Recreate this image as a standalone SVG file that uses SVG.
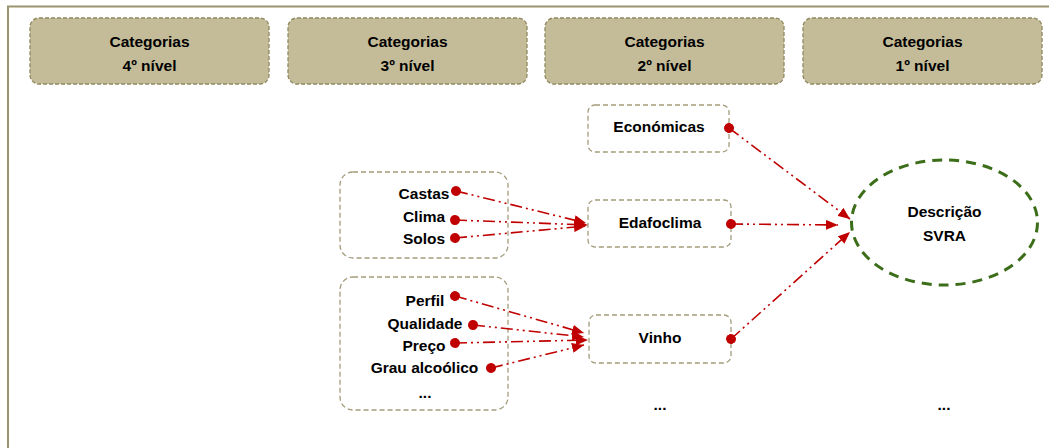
<svg xmlns="http://www.w3.org/2000/svg" width="1049" height="448" viewBox="0 0 1049 448">
  <style>
    .hdr { fill: #c4bc98; stroke: #8f885f; stroke-width: 1.3; stroke-dasharray: 4 2; }
    .box { fill: #ffffff; stroke: #a39c7a; stroke-width: 1.3; stroke-dasharray: 5 3; }
    .txt { font-family: "Liberation Sans", Arial, sans-serif; font-weight: bold; font-size: 15.5px; fill: #000000; text-anchor: middle; }
    .lnk { fill: none; stroke: #c00000; stroke-width: 1.6; stroke-dasharray: 12 4 2 4 2 4; marker-start: url(#dot); marker-end: url(#arrow); }
  </style>
  <defs>
    <marker id="dot" viewBox="0 0 10 10" refX="5" refY="5" markerWidth="10" markerHeight="10" markerUnits="userSpaceOnUse" orient="auto">
      <circle cx="5" cy="5" r="5" fill="#c00000"/>
    </marker>
    <marker id="arrow" viewBox="0 0 10 10" refX="10" refY="5" markerWidth="12" markerHeight="10" markerUnits="userSpaceOnUse" orient="auto" preserveAspectRatio="none">
      <path d="M0,0 L10,5 L0,10 Z" fill="#c00000"/>
    </marker>
  </defs>

  <!-- outer frame (top and left edges) -->
  <path d="M8,448 V6.5 H1049" fill="none" stroke="#9b9470" stroke-width="2"/>

  <!-- level headers -->
  <g id="hdr4">
    <rect class="hdr" x="30" y="18" width="239" height="66" rx="9"/>
    <text class="txt" x="149.5" y="47">Categorias</text>
    <text class="txt" x="149.5" y="71">4º nível</text>
  </g>
  <g id="hdr3">
    <rect class="hdr" x="288" y="18" width="239" height="66" rx="9"/>
    <text class="txt" x="407.5" y="47">Categorias</text>
    <text class="txt" x="407.5" y="71">3º nível</text>
  </g>
  <g id="hdr2">
    <rect class="hdr" x="545" y="18" width="239" height="66" rx="9"/>
    <text class="txt" x="664.5" y="47">Categorias</text>
    <text class="txt" x="664.5" y="71">2º nível</text>
  </g>
  <g id="hdr1">
    <rect class="hdr" x="803" y="18" width="239" height="66" rx="9"/>
    <text class="txt" x="922.5" y="47">Categorias</text>
    <text class="txt" x="922.5" y="71">1º nível</text>
  </g>

  <!-- 3rd level groups -->
  <g id="grp-edafoclima">
    <rect class="box" x="340" y="172" width="168" height="86" rx="13"/>
    <text class="txt" x="424" y="199">Castas</text>
    <text class="txt" x="424" y="222">Clima</text>
    <text class="txt" x="424" y="244">Solos</text>
  </g>
  <g id="grp-vinho">
    <rect class="box" x="340" y="277" width="168" height="133" rx="13"/>
    <text class="txt" x="425" y="306">Perfil</text>
    <text class="txt" x="425" y="329">Qualidade</text>
    <text class="txt" x="424" y="351">Preço</text>
    <text class="txt" x="424.5" y="373">Grau alcoólico</text>
    <text class="txt" x="425" y="398">...</text>
  </g>

  <!-- 2nd level nodes -->
  <g id="economicas">
    <rect class="box" x="588" y="105" width="141" height="47" rx="7"/>
    <text class="txt" x="659" y="132">Económicas</text>
  </g>
  <g id="edafoclima">
    <rect class="box" x="588" y="200" width="143" height="47" rx="7"/>
    <text class="txt" x="660" y="228">Edafoclima</text>
  </g>
  <g id="vinho">
    <rect class="box" x="589" y="315" width="142" height="48" rx="7"/>
    <text class="txt" x="660" y="343">Vinho</text>
  </g>
  <g id="more2">
    <text class="txt" x="660" y="410">...</text>
  </g>

  <!-- 1st level -->
  <g id="descricao">
    <ellipse cx="944.5" cy="222.5" rx="93" ry="62.5" fill="#ffffff" stroke="#3c6e1a" stroke-width="3" stroke-dasharray="10 7"/>
    <text class="txt" x="944.5" y="217">Descrição</text>
    <text class="txt" x="944.5" y="241">SVRA</text>
  </g>
  <g id="more1">
    <text class="txt" x="944" y="410">...</text>
  </g>

  <!-- connectors -->
  <g id="connectors">
    <path class="lnk" d="M456,191 L586,223"/>
    <path class="lnk" d="M455,220 L588,225"/>
    <path class="lnk" d="M455,238 L586,226"/>
    <path class="lnk" d="M455,296 L584,333"/>
    <path class="lnk" d="M473,325 L584,337"/>
    <path class="lnk" d="M455,343 L588,340"/>
    <path class="lnk" d="M491,368 L584,345"/>
    <path class="lnk" d="M729,128 L850,219"/>
    <path class="lnk" d="M731,224 L838,225"/>
    <path class="lnk" d="M731,339 L850,232"/>
  </g>
</svg>
